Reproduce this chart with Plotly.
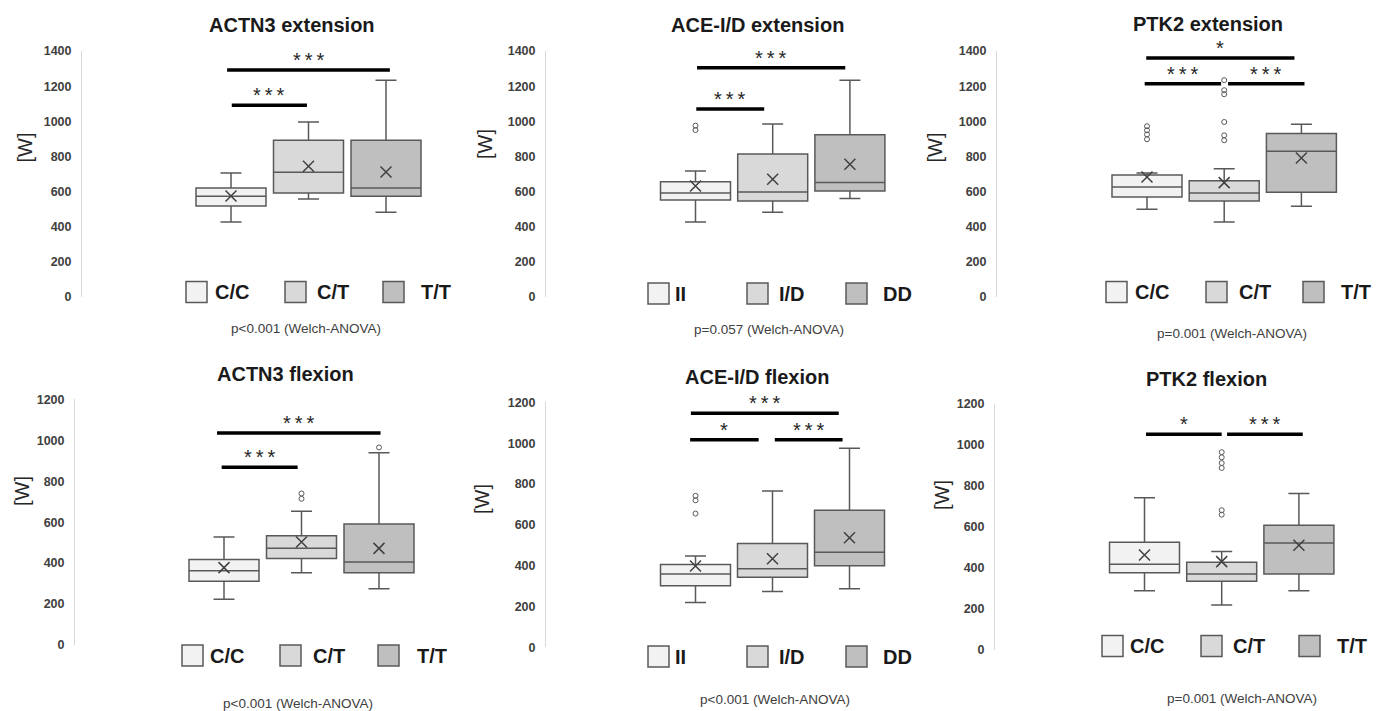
import plotly.graph_objects as go

FIG_W, FIG_H = 1386, 711

# ---------------- data ----------------
ACTN3_GROUPS = ["C/C", "C/T", "T/T"]
ACE_GROUPS = ["II", "I/D", "DD"]
PTK2_GROUPS = ["C/C", "C/T", "T/T"]

TITLES = ["ACTN3 extension", "ACE-I/D extension", "PTK2 extension",
          "ACTN3 flexion", "ACE-I/D flexion", "PTK2 flexion"]
P_TEXTS = ["p<0.001 (Welch-ANOVA)", "p=0.057 (Welch-ANOVA)", "p=0.001 (Welch-ANOVA)",
           "p<0.001 (Welch-ANOVA)", "p<0.001 (Welch-ANOVA)", "p=0.001 (Welch-ANOVA)"]
EXT_TICKS = [0, 200, 400, 600, 800, 1000, 1200, 1400]
FLEX_TICKS = [0, 200, 400, 600, 800, 1000, 1200]
Y_LABEL = "[W]"

# ACTN3 extension
ACTN3_EXT_LOW = [427, 558, 482]
ACTN3_EXT_Q1 = [518, 592, 573]
ACTN3_EXT_MED = [573, 710, 620]
ACTN3_EXT_Q3 = [620, 892, 892]
ACTN3_EXT_HIGH = [706, 996, 1233]
ACTN3_EXT_MEAN = [575, 744, 711]
ACTN3_EXT_OUT = [[], [], []]
ACTN3_EXT_SIG = [(0.01, 0.98, 1091, "***"), (-0.05, 2.05, 1292, "***")]

# ACE-I/D extension
ACE_EXT_LOW = [427, 482, 560]
ACE_EXT_Q1 = [552, 546, 603]
ACE_EXT_MED = [592, 598, 651]
ACE_EXT_Q3 = [656, 814, 924]
ACE_EXT_HIGH = [717, 985, 1233]
ACE_EXT_MEAN = [632, 670, 755]
ACE_EXT_OUT = [[950, 975], [], []]
ACE_EXT_SIG = [(0.01, 0.89, 1070, "***"), (0.02, 1.94, 1305, "***")]

# PTK2 extension
PTK2_EXT_LOW = [499, 427, 516]
PTK2_EXT_Q1 = [569, 546, 596]
PTK2_EXT_MED = [626, 592, 829]
PTK2_EXT_Q3 = [694, 662, 930]
PTK2_EXT_HIGH = [706, 730, 983]
PTK2_EXT_MEAN = [683, 651, 791]
PTK2_EXT_OUT = [[898, 925, 949, 972], [892, 920, 996, 1154, 1177, 1234], []]
PTK2_EXT_SIG = [(-0.03, 0.96, 1214, "***"), (1.05, 2.04, 1214, "***"), (-0.01, 1.91, 1360, "*")]

# ACTN3 flexion
ACTN3_FLEX_LOW = [223, 353, 275]
ACTN3_FLEX_Q1 = [311, 423, 353]
ACTN3_FLEX_MED = [363, 472, 405]
ACTN3_FLEX_Q3 = [418, 534, 591]
ACTN3_FLEX_HIGH = [527, 653, 939]
ACTN3_FLEX_MEAN = [378, 503, 472]
ACTN3_FLEX_OUT = [[], [714, 740], [965]]
ACTN3_FLEX_SIG = [(-0.03, 0.95, 868, "***"), (-0.09, 2.02, 1035, "***")]

# ACE-I/D flexion
ACE_FLEX_LOW = [220, 273, 287]
ACE_FLEX_Q1 = [302, 343, 400]
ACE_FLEX_MED = [359, 385, 465]
ACE_FLEX_Q3 = [405, 509, 671]
ACE_FLEX_HIGH = [447, 766, 975]
ACE_FLEX_MEAN = [398, 434, 537]
ACE_FLEX_OUT = [[655, 720, 742], [], []]
ACE_FLEX_SIG = [(-0.07, 0.82, 1016, "*"), (1.03, 1.91, 1016, "***"), (-0.06, 1.86, 1146, "***")]

# PTK2 flexion
PTK2_FLEX_LOW = [289, 220, 289]
PTK2_FLEX_Q1 = [377, 335, 371]
PTK2_FLEX_MED = [418, 371, 522]
PTK2_FLEX_Q3 = [525, 428, 608]
PTK2_FLEX_HIGH = [743, 480, 764]
PTK2_FLEX_MEAN = [463, 431, 511]
PTK2_FLEX_OUT = [[], [660, 682, 888, 912, 940, 965], []]
PTK2_FLEX_SIG = [(0.02, 1.0, 1052, "*"), (1.07, 2.05, 1052, "***")]

PANELS = [
    (ACTN3_GROUPS, ACTN3_EXT_LOW, ACTN3_EXT_Q1, ACTN3_EXT_MED, ACTN3_EXT_Q3, ACTN3_EXT_HIGH, ACTN3_EXT_MEAN, ACTN3_EXT_OUT, ACTN3_EXT_SIG, EXT_TICKS),
    (ACE_GROUPS, ACE_EXT_LOW, ACE_EXT_Q1, ACE_EXT_MED, ACE_EXT_Q3, ACE_EXT_HIGH, ACE_EXT_MEAN, ACE_EXT_OUT, ACE_EXT_SIG, EXT_TICKS),
    (PTK2_GROUPS, PTK2_EXT_LOW, PTK2_EXT_Q1, PTK2_EXT_MED, PTK2_EXT_Q3, PTK2_EXT_HIGH, PTK2_EXT_MEAN, PTK2_EXT_OUT, PTK2_EXT_SIG, EXT_TICKS),
    (ACTN3_GROUPS, ACTN3_FLEX_LOW, ACTN3_FLEX_Q1, ACTN3_FLEX_MED, ACTN3_FLEX_Q3, ACTN3_FLEX_HIGH, ACTN3_FLEX_MEAN, ACTN3_FLEX_OUT, ACTN3_FLEX_SIG, FLEX_TICKS),
    (ACE_GROUPS, ACE_FLEX_LOW, ACE_FLEX_Q1, ACE_FLEX_MED, ACE_FLEX_Q3, ACE_FLEX_HIGH, ACE_FLEX_MEAN, ACE_FLEX_OUT, ACE_FLEX_SIG, FLEX_TICKS),
    (PTK2_GROUPS, PTK2_FLEX_LOW, PTK2_FLEX_Q1, PTK2_FLEX_MED, PTK2_FLEX_Q3, PTK2_FLEX_HIGH, PTK2_FLEX_MEAN, PTK2_FLEX_OUT, PTK2_FLEX_SIG, FLEX_TICKS),
]

# ---------------- styling / layout (pixels) ----------------
FILLS = ["#f2f2f2", "#d9d9d9", "#bfbfbf"]
EDGE = "#595959"
FONT = "Arial, Liberation Sans, sans-serif"

GEOM = [
    dict(axis=82, c0=231, step=77.5, ytop=51, ybot=297, title=(292, 25), ylab=(25, 147.5),
         p=(306, 328), sq=[186, 285, 383], tx=[213, 315, 419], ly=292),
    dict(axis=546, c0=695.5, step=77.2, ytop=51, ybot=297, title=(757, 25), ylab=(485, 144),
         p=(769, 329), sq=[648, 747, 846], tx=[673, 777, 881], ly=293.5),
    dict(axis=997, c0=1147, step=77.2, ytop=51, ybot=297, title=(1208, 24), ylab=(935, 147.5),
         p=(1232, 333), sq=[1106, 1206, 1303], tx=[1133, 1237, 1339], ly=292),
    dict(axis=75, c0=224, step=77.5, ytop=399.3, ybot=645, title=(285, 374), ylab=(22, 491),
         p=(298, 703), sq=[182, 280, 378], tx=[208, 311, 415], ly=655.5),
    dict(axis=546, c0=695.5, step=77, ytop=402.3, ybot=647.3, title=(757, 377), ylab=(482, 499),
         p=(775, 699), sq=[648, 747, 846], tx=[673, 777, 881], ly=656.5),
    dict(axis=995, c0=1144.5, step=77.2, ytop=404, ybot=650, title=(1206, 379), ylab=(942, 495),
         p=(1242, 698), sq=[1102, 1201, 1299], tx=[1128, 1231, 1335], ly=646),
]
BOX_PX = 70
SQ = 21
STAR_SEP = "\u2009"


def px(x):
    return x / FIG_W


def py(y):
    return 1 - y / FIG_H


fig = go.Figure()
shapes = []
annotations = []
layout_axes = {}

for i, (panel, g) in enumerate(zip(PANELS, GEOM)):
    groups, low, q1, med, q3, high, mean, outs, sig, ticks = panel
    n = i + 1
    xa = "x" if n == 1 else f"x{n}"
    ya = "y" if n == 1 else f"y{n}"
    xkey = "xaxis" if n == 1 else f"xaxis{n}"
    ykey = "yaxis" if n == 1 else f"yaxis{n}"

    right_px = g["c0"] + 2 * g["step"] + 60
    xr = [(g["axis"] - g["c0"]) / g["step"], (right_px - g["c0"]) / g["step"]]
    layout_axes[xkey] = dict(domain=[px(g["axis"]), px(right_px)], range=xr, visible=False,
                             anchor=ya, fixedrange=True)
    layout_axes[ykey] = dict(domain=[py(g["ybot"]), py(g["ytop"])], range=[0, ticks[-1]],
                             anchor=xa, showgrid=False, zeroline=False, showline=True,
                             linecolor="#d9d9d9", linewidth=1, tickvals=ticks,
                             ticks="", ticklabelstandoff=7, fixedrange=True, automargin=False,
                             tickfont=dict(family=FONT, size=12.5, color="#404040", weight="bold"))

    for k in range(3):
        fig.add_trace(go.Box(
            x=[k], q1=[q1[k]], median=[med[k]], q3=[q3[k]],
            lowerfence=[low[k]], upperfence=[high[k]],
            width=BOX_PX / g["step"], whiskerwidth=0.3,
            fillcolor=FILLS[k], line=dict(color=EDGE, width=1.5),
            name=groups[k], showlegend=False, xaxis=xa, yaxis=ya, hoverinfo="skip"))
        if outs[k]:
            fig.add_trace(go.Scatter(
                x=[k] * len(outs[k]), y=outs[k], mode="markers",
                marker=dict(symbol="circle-open", size=5, color=EDGE, line=dict(width=1)),
                showlegend=False, xaxis=xa, yaxis=ya, hoverinfo="skip"))
    fig.add_trace(go.Scatter(
        x=[0, 1, 2], y=mean, mode="markers",
        marker=dict(symbol="x-thin", size=11, line=dict(color="#404040", width=1.5)),
        showlegend=False, xaxis=xa, yaxis=ya, hoverinfo="skip"))

    # significance brackets
    for (a, b, h, lab) in sig:
        shapes.append(dict(type="line", xref=xa, yref=ya, x0=a, x1=b, y0=h, y1=h,
                           line=dict(color="black", width=3.5)))
        annotations.append(dict(xref=xa, yref=ya, x=(a + b) / 2, y=h, text=STAR_SEP.join(lab),
                                showarrow=False, yanchor="bottom", yshift=-2, borderpad=0,
                                font=dict(family=FONT, size=20, color="#262626")))

    # title, y label, p text
    annotations.append(dict(xref="paper", yref="paper", x=px(g["title"][0]), y=py(g["title"][1]),
                            text=TITLES[i], showarrow=False, xanchor="center", yanchor="middle",
                            borderpad=0,
                            font=dict(family=FONT, size=20, color="#1a1a1a", weight="bold")))
    annotations.append(dict(xref="paper", yref="paper", x=px(g["ylab"][0]), y=py(g["ylab"][1]),
                            text=Y_LABEL, showarrow=False, textangle=-90, xanchor="center",
                            yanchor="middle", font=dict(family=FONT, size=20, color="#262626")))
    annotations.append(dict(xref="paper", yref="paper", x=px(g["p"][0]), y=py(g["p"][1]),
                            text=P_TEXTS[i], showarrow=False, xanchor="center", yanchor="middle",
                            font=dict(family=FONT, size=13.5, color="#404040")))

    # legend
    for k in range(3):
        x0 = g["sq"][k]
        shapes.append(dict(type="rect", xref="paper", yref="paper",
                           x0=px(x0), x1=px(x0 + SQ), y0=py(g["ly"] + SQ / 2), y1=py(g["ly"] - SQ / 2),
                           fillcolor=FILLS[k], line=dict(color=EDGE, width=1.5)))
        annotations.append(dict(xref="paper", yref="paper", x=px(g["tx"][k]), y=py(g["ly"]),
                                text=groups[k], showarrow=False, xanchor="left", yanchor="middle",
                                font=dict(family=FONT, size=20, color="#1a1a1a", weight="bold")))

fig.update_layout(
    width=FIG_W, height=FIG_H, margin=dict(l=0, r=0, t=0, b=0, pad=0, autoexpand=False),
    paper_bgcolor="white", plot_bgcolor="white",
    shapes=shapes, annotations=annotations, showlegend=False,
    **layout_axes)

PAGE_JS = ("document.documentElement.style.margin='0';document.body.style.margin='0';"
           "document.body.style.overflow='hidden';")

fig.write_html("out.html", config={"displayModeBar": False}, post_script=PAGE_JS)
